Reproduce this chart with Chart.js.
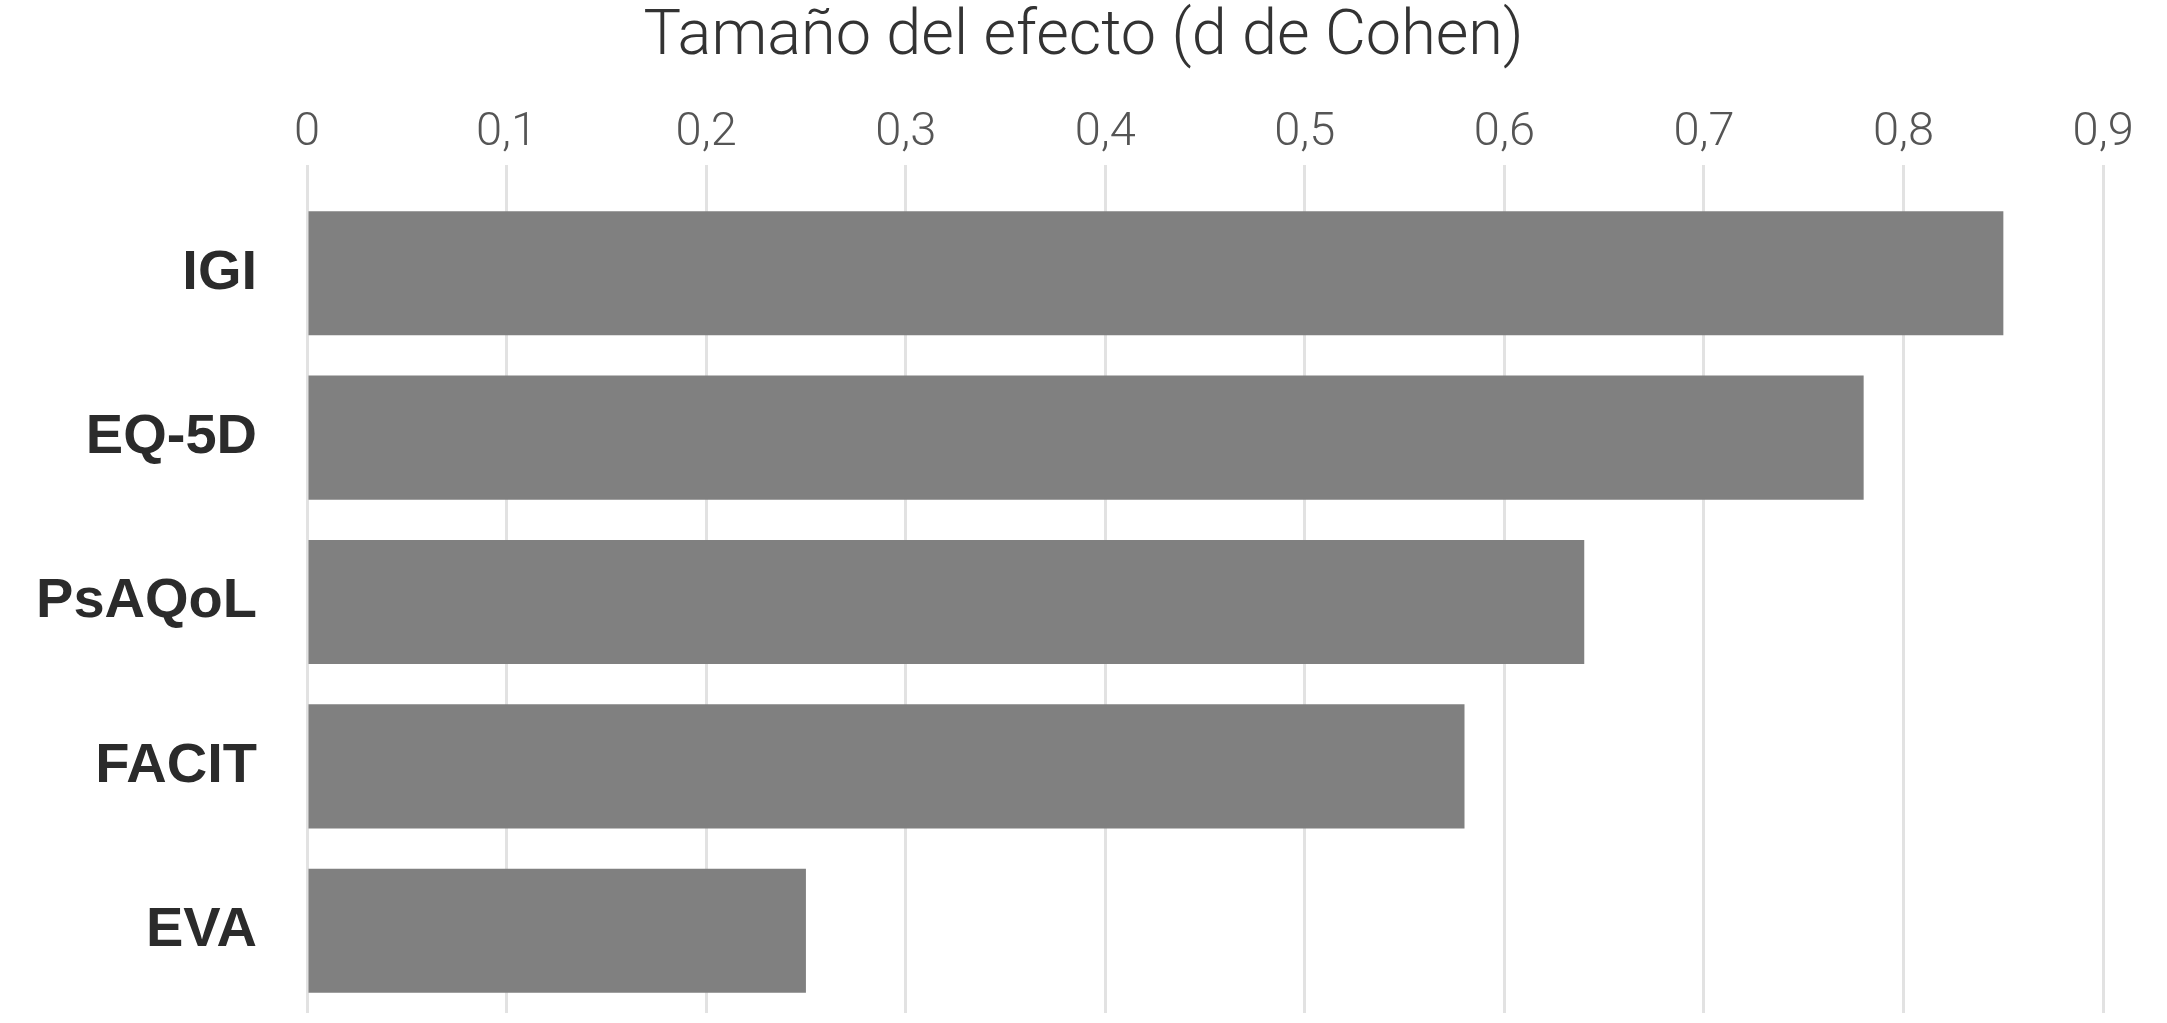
<!DOCTYPE html>
<html lang="es">
<head>
<meta charset="utf-8">
<title>Tamaño del efecto</title>
<script src="https://cdn.jsdelivr.net/npm/chart.js@4.4.1/dist/chart.umd.min.js"></script>
<style>
    html, body { margin: 0; padding: 0; background: #fff; overflow: hidden; }
    #wrap { position: relative; width: 2167px; height: 1023px; }
</style>
</head>
<body>
<div id="wrap"><canvas id="effectChart"></canvas></div>
<script>
// ---------- datos ----------
const categories = ['IGI', 'EQ-5D', 'PsAQoL', 'FACIT', 'EVA'];
const effectSizes = [0.85, 0.78, 0.64, 0.58, 0.25];
const tickValues = [0, 0.1, 0.2, 0.3, 0.4, 0.5, 0.6, 0.7, 0.8, 0.9];
const axisTitle = 'Tamaño del efecto (d de Cohen)';

// ---------- gráfico de barras horizontal ----------
const ctx = document.getElementById('effectChart').getContext('2d');

new Chart(ctx, {
    type: 'bar',
    data: {
        labels: categories,
        datasets: [{
            data: effectSizes,
            backgroundColor: '#808080',
            borderWidth: 0,
            barPercentage: 0.755,
            categoryPercentage: 1.0,
        }]
    },
    options: {
        indexAxis: 'y',
        responsive: true,
        maintainAspectRatio: false,
        animation: false,
        devicePixelRatio: 1,
        layout: { padding: { top: 0, right: 0, bottom: 10, left: 0 } },
        plugins: {
            legend: { display: false },
            tooltip: { enabled: false },
            title: {
                display: true,
                text: axisTitle,
                color: '#333',
                font: { family: 'Roboto, "Liberation Sans", sans-serif', size: 63, weight: 300 },
                padding: { top: 0, bottom: 25 }
            }
        },
        scales: {
            x: {
                position: 'top',
                min: 0,
                max: 0.932,
                afterBuildTicks: scale => {
                    scale.ticks = tickValues.map(v => ({ value: v }));
                },
                ticks: {
                    callback: v => String(Math.round(v * 10) / 10).replace('.', ','),
                    color: '#555',
                    padding: 4,
                    font: { family: 'Roboto, "Liberation Sans", sans-serif', size: 47, weight: 300 }
                },
                grid: {
                    color: '#e2e2e2',
                    lineWidth: 3,
                    tickLength: 26,
                    drawTicks: true
                },
                border: { display: false }
            },
            y: {
                // ancho fijo del eje de categorías y sin relleno extra arriba/abajo
                afterFit: scale => {
                    scale.width = 307;
                    scale.paddingTop = 0;
                    scale.paddingBottom = 0;
                },
                ticks: {
                    color: '#2b2b2b',
                    padding: 50,
                    font: { family: '"Liberation Sans", Arial, sans-serif', size: 56, weight: 'bold' }
                },
                grid: { display: false, drawTicks: false },
                border: { display: false }
            }
        }
    }
});
</script>
</body>
</html>
